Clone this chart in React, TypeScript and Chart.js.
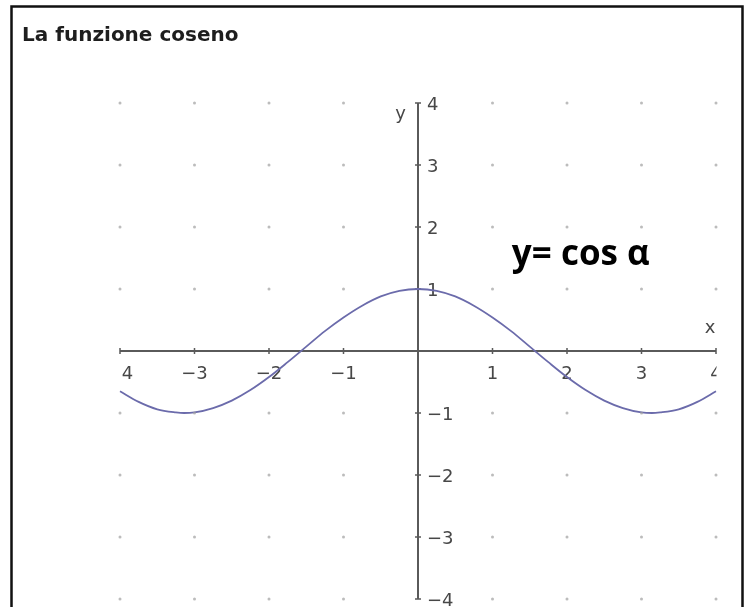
import { useEffect, useRef } from "react";
import { Chart, registerables } from "chart.js";

Chart.register(...registerables);

const chartTitle = "La funzione coseno";
const curveLabel = "y= cos α";
const xAxisName = "x";
const yAxisName = "y";

// sampled points of the cosine curve
const xSamples = [
  -4, -3.75, -3.5, -3.25, -3.14, -3, -2.75, -2.5, -2.25, -2, -1.75, -1.5, -1.25, -1, -0.75, -0.5, -0.25,
  0, 0.25, 0.5, 0.75, 1, 1.25, 1.5, 1.75, 2, 2.25, 2.5, 2.75, 3, 3.14, 3.25, 3.5, 3.75, 4,
];
const cosSamples = [
  -0.65, -0.82, -0.94, -0.99, -1.0, -0.99, -0.92, -0.8, -0.63, -0.42, -0.18, 0.07, 0.32, 0.54, 0.73, 0.88, 0.97,
  1.0, 0.97, 0.88, 0.73, 0.54, 0.32, 0.07, -0.18, -0.42, -0.63, -0.8, -0.92, -0.99, -1.0, -0.99, -0.94, -0.82, -0.65,
];

const xTicks = [-4, -3, -2, -1, 1, 2, 3, 4];
const yTicks = [-4, -3, -2, -1, 1, 2, 3, 4];
const axisMin = -4;
const axisMax = 4;

const fmt = (n: number) => (n < 0 ? "\u2212" + Math.abs(n) : String(n));

const AXIS_COLOR = "#5a5a5a";
const LABEL_COLOR = "#474747";
const TICK_FONT = "18px 'DejaVu Sans'";

const backdropPlugin = {
  id: "backdrop",
  beforeDatasetsDraw(chart: any) {
    const { ctx } = chart;
    const xs = chart.scales.x;
    const ys = chart.scales.y;
    const ox = xs.getPixelForValue(0);
    const oy = ys.getPixelForValue(0);
    ctx.save();

    // outer frame
    ctx.strokeStyle = "#111";
    ctx.lineWidth = 2.5;
    ctx.beginPath();
    ctx.moveTo(11.5, 620);
    ctx.lineTo(11.5, 6.5);
    ctx.lineTo(742.5, 6.5);
    ctx.lineTo(742.5, 620);
    ctx.stroke();

    // title
    ctx.fillStyle = "#1e1e1e";
    ctx.font = "bold 20px 'DejaVu Sans'";
    ctx.textAlign = "left";
    ctx.textBaseline = "alphabetic";
    ctx.fillText(chartTitle, 22, 41);

    // axes
    ctx.strokeStyle = AXIS_COLOR;
    ctx.lineWidth = 2;
    ctx.beginPath();
    ctx.moveTo(xs.getPixelForValue(axisMin), oy);
    ctx.lineTo(xs.getPixelForValue(axisMax), oy);
    ctx.moveTo(ox, ys.getPixelForValue(axisMax));
    ctx.lineTo(ox, ys.getPixelForValue(axisMin));
    ctx.stroke();

    // tick marks
    ctx.lineWidth = 1.5;
    ctx.beginPath();
    xTicks.forEach((v) => {
      const px = xs.getPixelForValue(v);
      ctx.moveTo(px, oy - 3);
      ctx.lineTo(px, oy + 3);
    });
    yTicks.forEach((v) => {
      const py = ys.getPixelForValue(v);
      ctx.moveTo(ox - 3, py);
      ctx.lineTo(ox + 3, py);
    });
    ctx.stroke();

    // tick labels, clipped to the plotting window
    const left = xs.getPixelForValue(axisMin);
    const right = xs.getPixelForValue(axisMax);
    ctx.save();
    ctx.beginPath();
    ctx.rect(left + 0.5, 0, right - left, chart.height);
    ctx.clip();
    ctx.fillStyle = LABEL_COLOR;
    ctx.font = TICK_FONT;
    ctx.textBaseline = "alphabetic";
    ctx.textAlign = "center";
    xTicks.forEach((v) => {
      ctx.fillText(fmt(v), xs.getPixelForValue(v), oy + 28);
    });
    ctx.restore();

    ctx.fillStyle = LABEL_COLOR;
    ctx.font = TICK_FONT;
    ctx.textAlign = "left";
    yTicks.forEach((v) => {
      ctx.fillText(fmt(v), ox + 9, ys.getPixelForValue(v) + 6.5);
    });

    // axis names
    ctx.textAlign = "right";
    ctx.fillText(yAxisName, ox - 12, ys.getPixelForValue(axisMax) + 16);
    ctx.textAlign = "center";
    ctx.fillText(xAxisName, xs.getPixelForValue(axisMax) - 6, oy - 18);

    ctx.restore();
  },
  afterDatasetsDraw(chart: any) {
    const { ctx } = chart;
    const xs = chart.scales.x;
    const ys = chart.scales.y;
    ctx.save();
    ctx.fillStyle = "#000";
    ctx.font = "bold 35px 'Open Sans'";
    ctx.textAlign = "left";
    ctx.textBaseline = "alphabetic";
    ctx.fillText(curveLabel, xs.getPixelForValue(1.26), ys.getPixelForValue(1.39));
    ctx.restore();
  },
};

export default function App() {
  const canvasRef = useRef<HTMLCanvasElement | null>(null);

  useEffect(() => {
    document.body.style.margin = "0";
    const canvas = canvasRef.current;
    if (!canvas) return;

    const curve = xSamples.map((x, i) => ({ x, y: cosSamples[i] }));
    const dots: { x: number; y: number }[] = [];
    xTicks.forEach((x) => yTicks.forEach((y) => dots.push({ x, y })));

    const chart = new Chart(canvas, {
      type: "scatter",
      data: {
        datasets: [
          {
            label: "griglia",
            data: dots,
            pointRadius: 1.5,
            pointBackgroundColor: "rgba(160,160,160,0.7)",
            pointBorderWidth: 0,
            showLine: false,
            clip: false,
          },
          {
            label: "cos",
            data: curve,
            showLine: true,
            borderColor: "#6b6bab",
            borderWidth: 1.8,
            pointRadius: 0,
            cubicInterpolationMode: "monotone",
            fill: false,
            clip: false,
          },
        ],
      },
      options: {
        animation: false,
        responsive: false,
        devicePixelRatio: 1,
        events: [],
        layout: { padding: { left: 120, right: 36, top: 103, bottom: 8 } },
        plugins: {
          legend: { display: false },
          title: { display: false },
          tooltip: { enabled: false },
        },
        scales: {
          x: { type: "linear", min: axisMin, max: axisMax, display: false },
          y: { type: "linear", min: axisMin, max: axisMax, display: false },
        },
      },
      plugins: [backdropPlugin],
    });
    return () => chart.destroy();
  }, []);

  return (
    <div style={{ width: 752, height: 607, background: "#fff" }}>
      <canvas ref={canvasRef} width={752} height={607} style={{ display: "block" }} />
    </div>
  );
}
